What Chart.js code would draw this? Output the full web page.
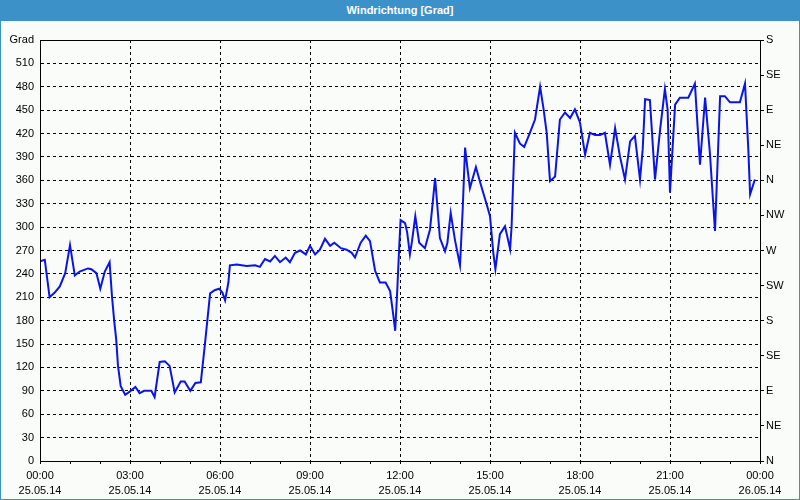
<!DOCTYPE html>
<html>
<head>
<meta charset="utf-8">
<script src="https://cdn.jsdelivr.net/npm/chart.js@4.4.1/dist/chart.umd.min.js"></script>
<style>
  html, body { margin: 0; padding: 0; background: #fafcfa; }
  #titlebar {
    width: 800px; height: 21px; background: #3c91c8; color: #fff;
    font: bold 11px "Liberation Sans Narrow", "Liberation Sans", sans-serif;
    line-height: 21px; text-align: center;
  }
  #frame {
    width: 798px; height: 478px; background: #fafcfa;
    border: 1px solid #3c91c8; border-top: none;
  }
  canvas { display: block; }
</style>
</head>
<body>
<div id="titlebar">Windrichtung [Grad]</div>
<div id="frame"><canvas id="windChart" width="798" height="478"></canvas></div>
<script>
// time of day in hours (25.05.14 00:00 = 0)
const hours = [
    0, 0.16, 0.32, 0.49, 0.66, 0.84, 1.0, 1.16, 1.32, 1.6,
    1.71, 1.88, 2.01, 2.16, 2.32, 2.4, 2.47, 2.54, 2.6, 2.69,
    2.84, 2.99, 3.18, 3.32, 3.47, 3.71, 3.82, 3.99, 4.16, 4.32,
    4.49, 4.69, 4.82, 5.01, 5.18, 5.36, 5.49, 5.58, 5.67, 5.82,
    5.97, 6.08, 6.17, 6.28, 6.33, 6.56, 6.72, 6.89, 7.17, 7.33,
    7.5, 7.67, 7.83, 8.0, 8.19, 8.33, 8.5, 8.67, 8.86, 9.0,
    9.17, 9.33, 9.5, 9.67, 9.81, 10.03, 10.22, 10.39, 10.5, 10.69,
    10.86, 11.0, 11.17, 11.33, 11.52, 11.67, 11.78, 11.84, 11.91, 11.98,
    12.02, 12.17, 12.24, 12.33, 12.4, 12.51, 12.64, 12.83, 13.0, 13.09,
    13.17, 13.33, 13.5, 13.58, 13.69, 13.83, 14.0, 14.09, 14.17, 14.24,
    14.33, 14.53, 14.69, 14.89, 15.0, 15.11, 15.18, 15.33, 15.5, 15.67,
    15.72, 15.83, 16.0, 16.14, 16.33, 16.5, 16.67, 16.78, 16.89, 17.0,
    17.17, 17.33, 17.5, 17.67, 17.83, 18.0, 18.17, 18.33, 18.5, 18.67,
    18.83, 19.0, 19.09, 19.17, 19.33, 19.5, 19.67, 19.83, 20.0, 20.09,
    20.17, 20.33, 20.5, 20.67, 20.83, 20.92, 21.0, 21.17, 21.33, 21.61,
    21.83, 22.0, 22.17, 22.33, 22.5, 22.67, 22.83, 23.0, 23.33, 23.5,
    23.61, 23.67, 23.83
];
const degrees = [
    256, 258, 210, 216, 224, 241, 277, 238, 243, 247,
    246, 241, 221, 243, 255, 211, 181, 156, 122, 96,
    85, 89, 95, 87, 90, 90, 82, 127, 128, 122,
    88, 102, 102, 90, 100, 101, 147, 181, 215, 219,
    221, 216, 206, 229, 251, 252, 251, 250, 251, 249,
    259, 256, 263, 255, 261, 255, 267, 270, 265, 276,
    265, 271, 285, 276, 280, 273, 271, 267, 261, 280,
    289, 282, 244, 229, 229, 218, 186, 167, 220, 280,
    309, 305, 293, 265, 282, 314, 280, 273, 297, 331,
    363, 286, 269, 280, 318, 284, 251, 323, 402, 378,
    350, 377, 355, 329, 314, 267, 246, 291, 301, 272,
    301, 421, 407, 403, 421, 438, 480, 453, 421, 359,
    365, 438, 447, 440, 451, 434, 393, 421, 418, 418,
    421, 380, 404, 427, 391, 361, 410, 417, 361, 400,
    464, 463, 361, 425, 477, 451, 344, 457, 466, 466,
    484, 380, 466, 395, 295, 468, 468, 460, 460, 484,
    400, 342, 361
];

const labelHours = [0, 3, 6, 9, 12, 15, 18, 21, 24];
const timeLabels = ['00:00', '03:00', '06:00', '09:00', '12:00', '15:00', '18:00', '21:00', '00:00'];
const dateLabels = ['25.05.14', '25.05.14', '25.05.14', '25.05.14', '25.05.14', '25.05.14', '25.05.14', '25.05.14', '26.05.14'];

const compassValues = [0, 45, 90, 135, 180, 225, 270, 315, 360, 405, 450, 495, 540];
const compassLabels = ['N', 'NE', 'E', 'SE', 'S', 'SW', 'W', 'NW', 'N', 'NE', 'E', 'SE', 'S'];

Chart.defaults.font.family = '"Liberation Sans", Arial, sans-serif';
Chart.defaults.font.size = 11;
Chart.defaults.color = '#000';

// solid frame round the plot area (top edge would otherwise be dashed)
const plotFrame = {
    id: 'plotFrame',
    afterDraw(chart) {
        const a = chart.chartArea;
        const ctx = chart.ctx;
        ctx.save();
        ctx.strokeStyle = '#000';
        ctx.lineWidth = 1;
        ctx.strokeRect(Math.round(a.left) + 0.5, Math.round(a.top) + 0.5,
            Math.round(a.right - a.left), Math.round(a.bottom - a.top));
        ctx.restore();
    }
};

const ctx = document.getElementById('windChart').getContext('2d');
new Chart(ctx, {
    type: 'line',
    data: {
        datasets: [{
            label: 'Windrichtung',
            data: hours.map((h, i) => ({ x: h, y: degrees[i] })),
            borderColor: '#0b14e8',
            borderWidth: 2,
            pointRadius: 0,
            tension: 0,
            fill: false
        }]
    },
    options: {
        responsive: false,
        animation: false,
        layout: { padding: { top: 19, left: 0, right: 0, bottom: 0 } },
        plugins: {
            legend: { display: false },
            tooltip: { enabled: false }
        },
        scales: {
            x: {
                type: 'linear',
                min: 0,
                max: 24,
                afterFit: (scale) => { scale.height = 38; },
                ticks: {
                    stepSize: 1,
                    autoSkip: false,
                    maxRotation: 0,
                    padding: 5,
                    font: { size: 11, lineHeight: 1.35 },
                    callback: (value) => {
                        const i = labelHours.indexOf(value);
                        return i >= 0 ? [timeLabels[i], dateLabels[i]] : '';
                    }
                },
                grid: {
                    color: (c) => (c.tick && c.tick.value % 3 === 0) ? '#000' : 'rgba(0,0,0,0)',
                    tickColor: '#000',
                    tickLength: 3
                },
                border: { display: true, color: '#000', dash: [3, 3] }
            },
            y: {
                position: 'left',
                min: 0,
                max: 540,
                afterFit: (scale) => { scale.width = 39; },
                ticks: {
                    stepSize: 30,
                    padding: 6,
                    callback: (value) => value === 540 ? 'Grad' : value
                },
                grid: { color: '#000', drawTicks: false },
                border: { display: true, color: '#000', dash: [3, 3] }
            },
            y2: {
                position: 'right',
                min: 0,
                max: 540,
                afterFit: (scale) => { scale.width = 39; },
                ticks: {
                    stepSize: 45,
                    padding: 2,
                    callback: (value) => {
                        const i = compassValues.indexOf(value);
                        return i >= 0 ? compassLabels[i] : '';
                    }
                },
                grid: { drawOnChartArea: false, tickColor: '#000', tickLength: 4 },
                border: { display: true, color: '#000' }
            }
        }
    },
    plugins: [plotFrame]
});
</script>
</body>
</html>
